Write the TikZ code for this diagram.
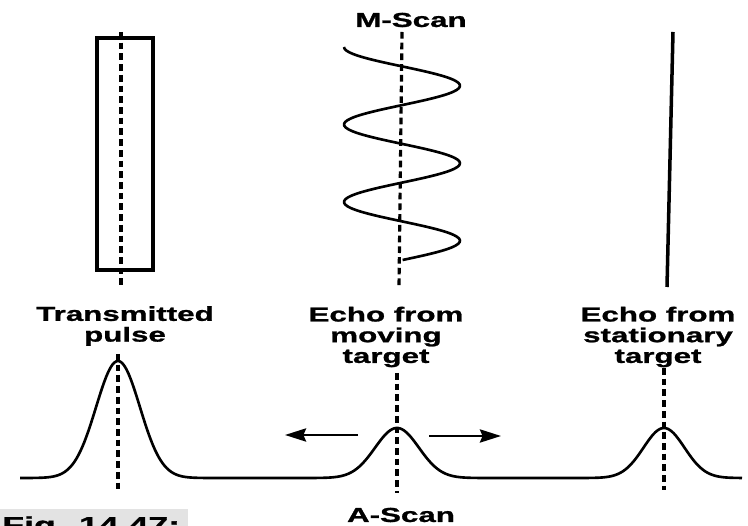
\documentclass[tikz,border=0pt]{standalone}
\usepackage{fontspec}
\newfontfamily\labelfont[FakeStretch=1.55,FakeBold=1.2]{Liberation Sans}
\usetikzlibrary{arrows.meta}

\newcommand*{\baseY}{478}
\newcommand*{\labelsize}{\fontsize{11.5}{11.8}\selectfont}

\begin{document}
\begin{tikzpicture}
[
	x=0.02cm,y=-0.02cm,
	lbl/.style={font=\labelfont\bfseries\labelsize,align=center,inner sep=0pt},
	scanaxis/.style={line width=1.8pt,dash pattern=on 3.8pt off 2.3pt},
	trace/.style={line width=1.5pt,line join=round},
	motion/.style={line width=1.4pt,-{Stealth[length=12pt,width=7.5pt,inset=1.5pt]}},
	declare function={pk(\x,\c,\w)=exp(max(-12,0-((\x-\c)/\w)*((\x-\c)/\w)));}
]

	% page
	\clip (0,0) rectangle (748,526);
	\fill[white] (0,0) rectangle (748,526);

	% caption strip
	\fill[gray!22] (0,509) rectangle (188,526);
	\node[lbl,font=\labelfont\bfseries\fontsize{13.1}{14}\selectfont,anchor=base west] (fig) at (2,533) {Fig. 14.47:};

	% labels
	\node[lbl] (mscan) at (411,20) {M-Scan};
	\node[lbl] (ascan) at (401,515) {A-Scan};
	\node[lbl] (tx) at (125,326) {Transmitted\\pulse};
	\node[lbl] (mov) at (386,337) {Echo from\\moving\\target};
	\node[lbl] (stat) at (658,337) {Echo from\\stationary\\target};

	% M-scan: transmitted pulse
	\draw[line width=1.8pt] (97,38) rectangle (153,270);
	\coordinate (txup) at (121,32);
	\coordinate (txdn) at (121,286);
	\draw[scanaxis] (txup) -- (txdn);

	% M-scan: moving target
	\coordinate (movup) at (402,32);
	\coordinate (movdn) at (399,287);
	\draw[scanaxis] (movup) -- (movdn);
	\draw[trace] plot[domain=47:260,samples=120,smooth] ({402-58*cos(4.645*(\x-47))},\x);

	% M-scan: stationary target
	\coordinate (statup) at (673,32);
	\coordinate (statdn) at (667,287);
	\draw[line width=2pt] (statup) -- (statdn);

	% A-scan trace
	\draw[trace] plot[domain=20:742,samples=360]
		(\x,{\baseY-117*pk(\x,118,31)-50*pk(\x,397,31)-50*pk(\x,664,29)});

	% A-scan axes
	\coordinate (atxup) at (118,354);
	\coordinate (atxdn) at (118,490);
	\coordinate (amovup) at (397,373);
	\coordinate (amovdn) at (397,493);
	\coordinate (astatup) at (664,368);
	\coordinate (astatdn) at (664,490);
	\draw[scanaxis] (atxup) -- (atxdn);
	\draw[scanaxis] (amovup) -- (amovdn);
	\draw[scanaxis] (astatup) -- (astatdn);

	% target motion
	\coordinate (lfrom) at (358,435);
	\coordinate (lto) at (285,435);
	\coordinate (rfrom) at (429,436);
	\coordinate (rto) at (501,436);
	\draw[motion] (lfrom) -- (lto);
	\draw[motion] (rfrom) -- (rto);

\end{tikzpicture}
\end{document}
